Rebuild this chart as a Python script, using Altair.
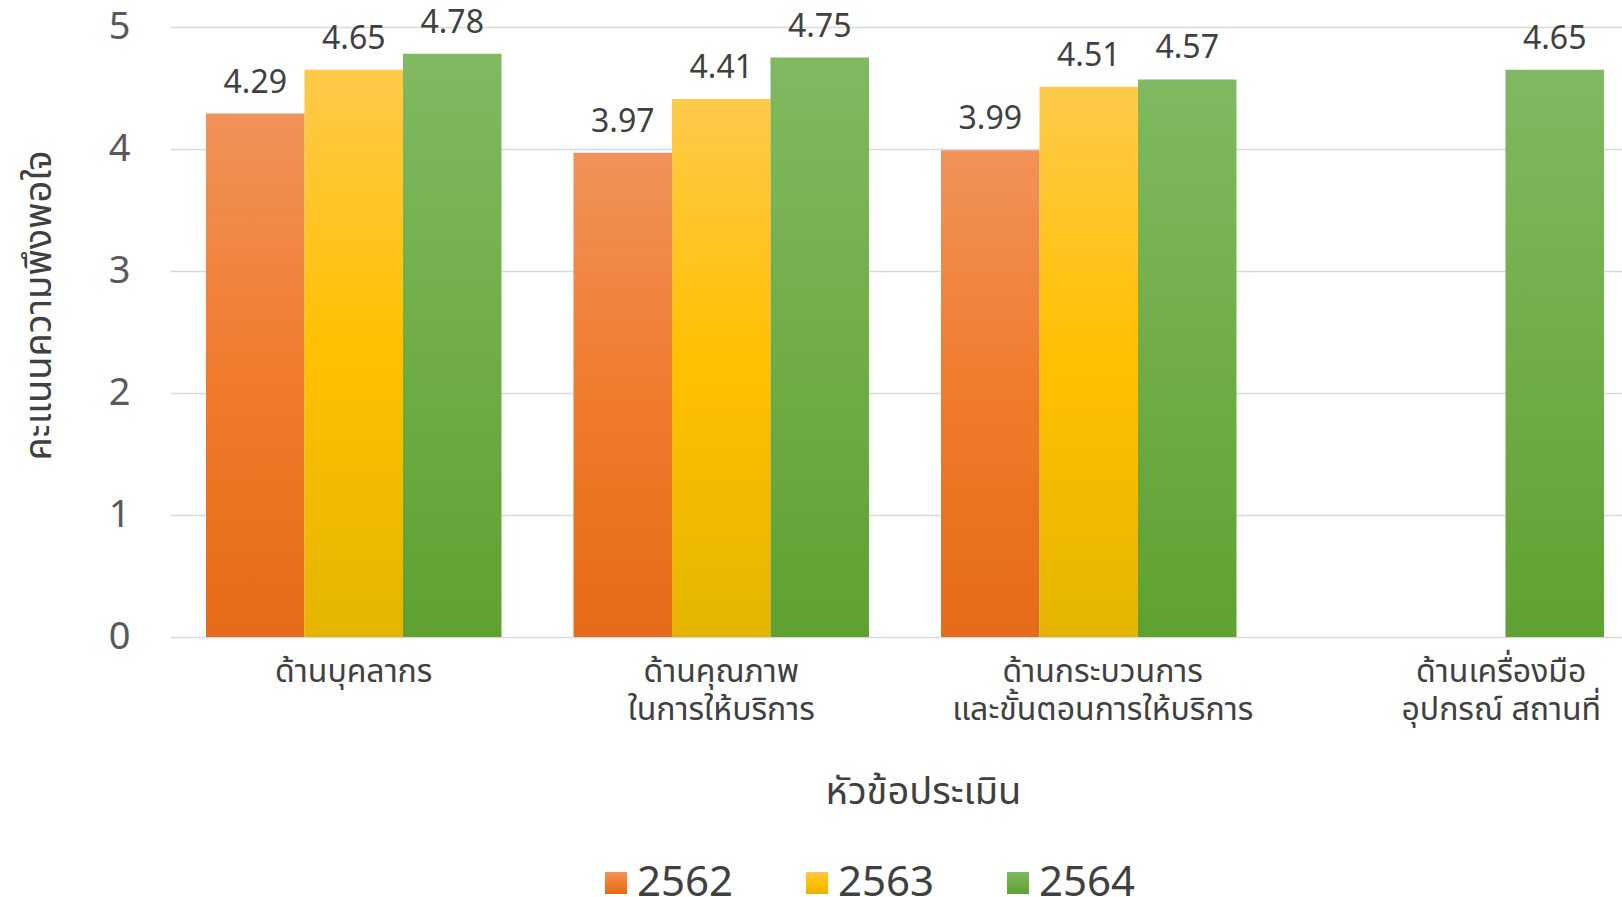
import altair as alt
import pandas as pd

# ---- data ----
categories = [
    "ด้านบุคลากร",
    "ด้านคุณภาพ|ในการให้บริการ",
    "ด้านกระบวนการ|และขั้นตอนการให้บริการ",
    "ด้านเครื่องมือ|อุปกรณ์ สถานที่",
]
years = ["2562", "2563", "2564"]
v2562 = [4.29, 3.97, 3.99, None]
v2563 = [4.65, 4.41, 4.51, None]
v2564 = [4.78, 4.75, 4.57, 4.65]
y_ticks = [0, 1, 2, 3, 4, 5]

rows = []
for yr, vals in zip(years, [v2562, v2563, v2564]):
    for c, v in zip(categories, vals):
        if v is not None:
            rows.append({"cat": c, "year": yr, "score": v})
df = pd.DataFrame(rows)

FONT = "Noto Sans, Noto Sans Thai, Noto Sans Thai UI, sans-serif"


def grad(top, mid, bot):
    return alt.ExprRef(
        expr="{gradient:'linear',x1:0,y1:0,x2:0,y2:1,stops:["
        f"{{offset:0,color:'{top}'}},{{offset:0.5,color:'{mid}'}},{{offset:1,color:'{bot}'}}]}}"
    )


fills = [
    grad("#F1925A", "#EF7B2B", "#E46B17"),
    grad("#FFC94A", "#FFC000", "#E4B500"),
    grad("#80B961", "#70AD47", "#5EA131"),
]

base = alt.Chart(df).encode(
    x=alt.X(
        "cat:N",
        sort=categories,
        scale=alt.Scale(range=[0, 1470], paddingInner=0.196, paddingOuter=0.098),
        axis=alt.Axis(
            title="หัวข้อประเมิน",
            labelExpr="split(datum.label, '|')",
            labelAngle=0,
            labelFont=FONT,
            labelFontSize=32,
            labelColor="#404040",
            labelLineHeight=38,
            labelBaseline="alphabetic",
            labelPadding=44,
            labelLimit=0,
            labelOverlap=False,
            labelOffset={
                "condition": [
                    {"test": "indexof(datum.label, 'กระบวนการ') >= 0", "value": 14},
                    {"test": "indexof(datum.label, 'เครื่องมือ') >= 0", "value": 45},
                ],
                "value": 0,
            },
            ticks=False,
            domain=False,
            grid=False,
            titleFont=FONT,
            titleFontSize=38,
            titleFontWeight="normal",
            titleColor="#404040",
            titleX=753,
            titleY=166,
            titleBaseline="alphabetic",
            titleAlign="center",
        ),
    ),
    xOffset=alt.XOffset(
        "year:N", sort=years, scale=alt.Scale(domain=years, paddingInner=0, paddingOuter=0)
    ),
    y=alt.Y(
        "score:Q",
        scale=alt.Scale(domain=[0, 5]),
        axis=alt.Axis(
            title="คะแนนความพึงพอใจ",
            values=y_ticks,
            labelFont=FONT,
            labelFontSize=38,
            labelColor="#595959",
            labelPadding=40,
            ticks=False,
            domain=False,
            gridColor="#D9D9D9",
            gridWidth=1.5,
            titleFont=FONT,
            titleFontSize=38,
            titleFontWeight="normal",
            titleColor="#404040",
            titleX=-131,
            titleY=278,
            titleAngle=270,
            titleBaseline="middle",
            titleAlign="center",
        ),
    ),
)

bars = base.mark_bar(strokeWidth=0).encode(
    color=alt.Color(
        "year:N",
        sort=years,
        scale=alt.Scale(domain=years, range=fills),
        legend=alt.Legend(
            title=None,
            orient="none",
            direction="horizontal",
            legendX=425,
            legendY=835,
            symbolType="square",
            symbolSize=484,
            symbolStrokeWidth=0,
            labelFont=FONT,
            labelFontSize=42,
            labelColor="#404040",
            labelOffset=0,
            columnPadding=62,
        ),
    )
)

labels = base.mark_text(
    baseline="alphabetic", dy=-21, fontSize=32, color="#404040", font=FONT
).encode(text=alt.Text("score:Q", format=".2f"))

chart = (
    (bars + labels)
    .properties(
        width=1452,
        height=610,
        autosize=alt.AutoSizeParams(type="none"),
        padding={"left": 170, "top": 27, "right": 0, "bottom": 260},
        background="white",
    )
    .configure_view(stroke=None)
)

chart.save("out.html", embed_options={"renderer": "svg", "actions": False})
